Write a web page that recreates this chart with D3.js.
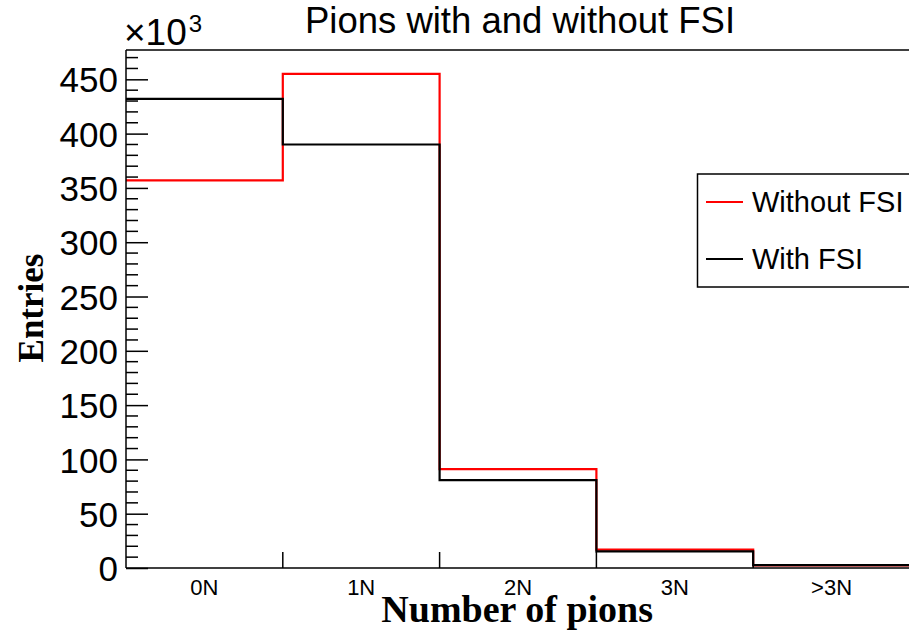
<!DOCTYPE html>
<html>
<head>
<meta charset="utf-8">
<script src="https://cdn.jsdelivr.net/npm/d3@7"></script>
<style>
  html, body { margin: 0; padding: 0; background: #fff; }
  svg { display: block; }
</style>
</head>
<body>
<svg id="chart" width="909" height="631"></svg>
<script>
// ---- data ----
const categories = ["0N", "1N", "2N", "3N", ">3N"];
const withoutFSI = [357, 455, 91, 17, 2.4];
const withFSI = [432, 390, 81, 15.3, 2.6];
const seriesNames = ["Without FSI", "With FSI"];
const seriesColors = ["#ff0000", "#000000"];
const yTicks = [0, 50, 100, 150, 200, 250, 300, 350, 400, 450];

// ---- layout ----
const mLeft = 126, mRight = 910, mTop = 50, mBottom = 568;
const svg = d3.select("#chart");

const x = d3.scaleLinear().domain([0, categories.length]).range([mLeft, mRight]);
const y = d3.scaleLinear().domain([0, 477]).range([mBottom, mTop]);

// frame (top line)
svg.append("line").attr("x1", mLeft).attr("x2", mRight).attr("y1", mTop).attr("y2", mTop)
  .attr("stroke", "#000").attr("stroke-width", 1.5);

// histograms
function stepPoints(vals) {
  const pts = vals.map((v, i) => [i, v]);
  pts.push([vals.length, vals[vals.length - 1]]);
  return pts;
}
const line = d3.line().x(d => x(d[0])).y(d => y(d[1])).curve(d3.curveStepAfter);
[withoutFSI, withFSI].forEach((vals, k) => {
  svg.append("path").datum(stepPoints(vals))
    .attr("d", line).attr("fill", "none")
    .attr("stroke", seriesColors[k]).attr("stroke-width", 2.2);
});

// y axis
const yAxis = d3.axisLeft(y).tickValues(yTicks).tickSize(-22).tickPadding(8).tickFormat(d3.format("d"));
const gy = svg.append("g").attr("transform", `translate(${mLeft},0)`).call(yAxis);
gy.select(".domain").remove();
gy.selectAll(".tick line").attr("stroke", "#000").attr("stroke-width", 1.5);
gy.selectAll(".tick text").attr("font-family", "Liberation Sans, Arial, sans-serif")
  .attr("font-size", 35).attr("fill", "#000").attr("dy", "0.36em");
// minor ticks
const minor = d3.range(0, 478, 10).filter(v => v % 50 !== 0);
svg.append("g").selectAll("line").data(minor).join("line")
  .attr("x1", mLeft).attr("x2", mLeft + 12).attr("y1", d => y(d)).attr("y2", d => y(d))
  .attr("stroke", "#000").attr("stroke-width", 1.5);
svg.append("line").attr("x1", mLeft).attr("x2", mLeft).attr("y1", mTop).attr("y2", mBottom)
  .attr("stroke", "#000").attr("stroke-width", 1.5);

// x axis
const xb = d3.scaleBand().domain(categories).range([mLeft, mRight]);
const gx = svg.append("g").attr("transform", `translate(0,${mBottom})`)
  .call(d3.axisBottom(xb).tickSize(0).tickPadding(11));
gx.select(".domain").remove();
gx.selectAll(".tick text").attr("font-family", "Liberation Sans, Arial, sans-serif")
  .attr("font-size", 22).attr("fill", "#000");
svg.append("g").selectAll("line").data(d3.range(1, categories.length)).join("line")
  .attr("x1", d => x(d)).attr("x2", d => x(d)).attr("y1", mBottom).attr("y2", mBottom - 16)
  .attr("stroke", "#000").attr("stroke-width", 1.5);
svg.append("line").attr("x1", mLeft).attr("x2", mRight).attr("y1", mBottom).attr("y2", mBottom)
  .attr("stroke", "#000").attr("stroke-width", 1.5);

// exponent label
const ex = svg.append("text").attr("x", 124).attr("y", 45)
  .attr("font-family", "Liberation Sans, Arial, sans-serif").attr("font-size", 37).attr("fill", "#000");
ex.append("tspan").text("\u00d710");
ex.append("tspan").attr("font-size", 24).attr("dy", -13).attr("dx", 2).text("3");

// title
svg.append("text").attr("x", 520).attr("y", 33).attr("text-anchor", "middle")
  .attr("font-family", "Liberation Sans, Arial, sans-serif").attr("font-size", 36.5).attr("fill", "#000")
  .text("Pions with and without FSI");

// axis titles
svg.append("text").attr("transform", "translate(43,308) rotate(-90)").attr("text-anchor", "middle")
  .attr("font-family", "Liberation Serif, Times New Roman, serif").attr("font-weight", "bold")
  .attr("font-size", 35).attr("fill", "#000").text("Entries");
svg.append("text").attr("x", 653).attr("y", 622).attr("text-anchor", "end")
  .attr("font-family", "Liberation Serif, Times New Roman, serif").attr("font-weight", "bold")
  .attr("font-size", 38).attr("fill", "#000").text("Number of pions");

// legend
const lg = svg.append("g");
lg.append("rect").attr("x", 697.5).attr("y", 174).attr("width", 230).attr("height", 113)
  .attr("fill", "#fff").attr("stroke", "#000").attr("stroke-width", 1.5);
seriesNames.forEach((name, k) => {
  const ly = 202 + k * 57;
  lg.append("line").attr("x1", 706).attr("x2", 743).attr("y1", ly).attr("y2", ly)
    .attr("stroke", seriesColors[k]).attr("stroke-width", 2.2);
  lg.append("text").attr("x", 752).attr("y", ly).attr("dy", "0.36em")
    .attr("font-family", "Liberation Sans, Arial, sans-serif").attr("font-size", 29).attr("fill", "#000")
    .text(name);
});
</script>
</body>
</html>
